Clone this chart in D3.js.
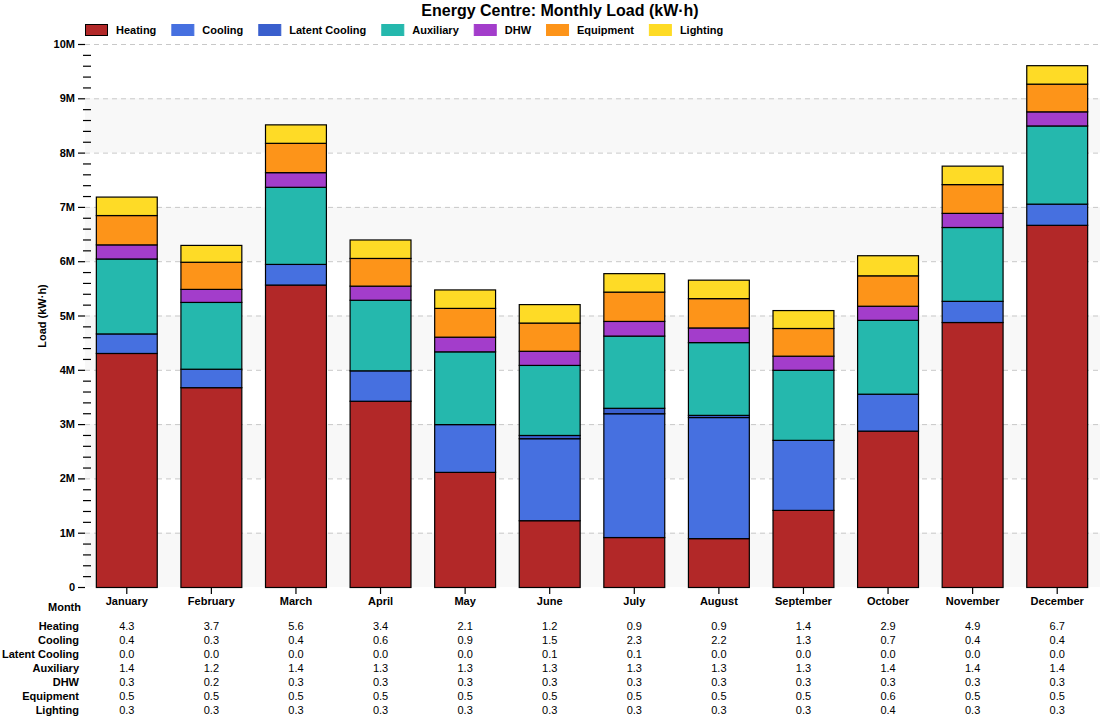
<!DOCTYPE html>
<html><head><meta charset="utf-8">
<script src="https://cdn.jsdelivr.net/npm/d3@7"></script>
<style>
body{margin:0;background:#fff;}
text{font-family:"Liberation Sans",Arial,sans-serif;}
</style></head>
<body><svg id="c" width="1120" height="720"></svg>
<script>
const months = ["January","February","March","April","May","June","July","August","September","October","November","December"];
const seriesNames = ["Heating","Cooling","Latent Cooling","Auxiliary","DHW","Equipment","Lighting"];
const seriesColors = ["#b22828","#4670e0","#3a5fcd","#25b8ad","#a33dcb","#fd9419","#fedb26"];
// values in millions of kW·h
const heating      = [4.31,3.68,5.57,3.43,2.12,1.23,0.92,0.90,1.42,2.88,4.88,6.67];
const cooling      = [0.36,0.34,0.38,0.56,0.88,1.51,2.28,2.23,1.29,0.68,0.39,0.39];
const latentCool   = [0.00,0.00,0.00,0.00,0.00,0.06,0.10,0.04,0.00,0.00,0.00,0.00];
const auxiliary    = [1.38,1.23,1.42,1.30,1.34,1.29,1.33,1.34,1.29,1.36,1.36,1.44];
const dhw          = [0.26,0.24,0.27,0.26,0.27,0.26,0.27,0.27,0.26,0.26,0.26,0.26];
const equipment    = [0.54,0.50,0.54,0.51,0.53,0.52,0.54,0.54,0.51,0.56,0.53,0.51];
const lighting     = [0.34,0.31,0.34,0.34,0.34,0.34,0.34,0.34,0.33,0.37,0.34,0.34];
const yTickValues  = [0,1,2,3,4,5,6,7,8,9,10];
const yTickLabels  = ["0","1M","2M","3M","4M","5M","6M","7M","8M","9M","10M"];
const titleText = "Energy Centre: Monthly Load (kW·h)";
const yTitle = "Load (kW·h)";

const seriesValues = [heating,cooling,latentCool,auxiliary,dhw,equipment,lighting];
const rows = months.map((m,i)=>{const r={month:m}; seriesNames.forEach((s,j)=>r[s]=seriesValues[j][i]); return r;});

const svg = d3.select("#c");
const L=85, R=1100, T=44, B=587;
const x = d3.scaleBand().domain(months).range([84,1099]).paddingInner(0.28).paddingOuter(0.14);
const y = d3.scaleLinear().domain([0,10]).range([B,T]);

// alternating bands
svg.append("g").selectAll("rect").data(yTickValues.filter(v=>v<10 && v%2===0)).join("rect")
  .attr("x",L).attr("width",R-L).attr("y",d=>y(d+1)).attr("height",d=>y(d)-y(d+1)).attr("fill","#f8f8f8");
// grid
svg.append("g").selectAll("line").data(yTickValues.filter(v=>v>0)).join("line")
  .attr("x1",L).attr("x2",R).attr("y1",d=>y(d)+0.5).attr("y2",d=>y(d)+0.5)
  .attr("stroke","#c8c8c8").attr("stroke-dasharray","5,4");

// bars
const stack = d3.stack().keys(seriesNames)(rows);
svg.append("g").selectAll("g").data(stack).join("g")
  .attr("fill",(d,i)=>seriesColors[i])
  .selectAll("rect").data(d=>d.filter(p=>p[1]-p[0]>0)).join("rect")
  .attr("x",d=>x(d.data.month)+0.5).attr("width",x.bandwidth())
  .attr("y",d=>y(d[1])+0.5).attr("height",d=>y(d[0])-y(d[1]))
  .attr("stroke","#000").attr("stroke-width",1.2);

// y axis
const ya = svg.append("g");
ya.selectAll("line.maj").data(yTickValues).join("line").attr("class","maj")
  .attr("x1",78).attr("x2",85).attr("y1",d=>y(d)+0.5).attr("y2",d=>y(d)+0.5).attr("stroke","#000").attr("stroke-width",1.2);
const minors = d3.range(0,50).map(i=>i*0.2).filter(v=>Math.abs(v-Math.round(v))>1e-6);
ya.selectAll("line.min").data(minors).join("line").attr("class","min")
  .attr("x1",83).attr("x2",91).attr("y1",d=>y(d)+0.5).attr("y2",d=>y(d)+0.5).attr("stroke","#000").attr("stroke-width",1.2);
ya.selectAll("text").data(yTickValues).join("text")
  .attr("x",75).attr("y",d=>y(d)+4).attr("text-anchor","end")
  .attr("font-size",11).attr("font-weight","bold").text((d,i)=>yTickLabels[i]);
svg.append("text").attr("transform","translate(46,316) rotate(-90)").attr("text-anchor","middle")
  .attr("font-size",11).attr("font-weight","bold").text(yTitle);

// x axis ticks and labels
const xa = svg.append("g");
xa.selectAll("line").data(months).join("line")
  .attr("x1",d=>x(d)+x.bandwidth()/2+0.5).attr("x2",d=>x(d)+x.bandwidth()/2+0.5)
  .attr("y1",B).attr("y2",B+7).attr("stroke","#000").attr("stroke-width",1.2);
xa.selectAll("text").data(months).join("text")
  .attr("x",d=>x(d)+x.bandwidth()/2+0.5).attr("y",605).attr("text-anchor","middle")
  .attr("font-size",11).attr("font-weight","bold").text(d=>d);

// data table
svg.append("text").attr("x",81).attr("y",611).attr("text-anchor","end")
  .attr("font-size",11).attr("font-weight","bold").text("Month");
const tbl = svg.append("g");
seriesNames.forEach((s,j)=>{
  const ty = 630 + j*14;
  tbl.append("text").attr("x",79).attr("y",ty).attr("text-anchor","end")
    .attr("font-size",11).attr("font-weight","bold").text(s);
  tbl.selectAll(null).data(rows).join("text")
    .attr("x",d=>x(d.month)+x.bandwidth()/2+0.5).attr("y",ty).attr("text-anchor","middle")
    .attr("font-size",11).text(d=>d[s].toFixed(1));
});

// title
svg.append("text").attr("x",560).attr("y",16).attr("text-anchor","middle")
  .attr("font-size",16).attr("font-weight","bold").text(titleText);

// legend
const lg = svg.append("g");
let lx = 85;
seriesNames.forEach((s,i)=>{
  lg.append("rect").attr("x",lx+0.5).attr("y",24.5).attr("width",22).attr("height",11)
    .attr("fill",seriesColors[i]).attr("stroke",i===0?"#000":seriesColors[i]).attr("stroke-width",1);
  const t = lg.append("text").attr("x",lx+31).attr("y",34).attr("font-size",11).attr("font-weight","bold").text(s);
  lx = lx + 31 + t.node().getComputedTextLength() + 15;
});
</script></body></html>
